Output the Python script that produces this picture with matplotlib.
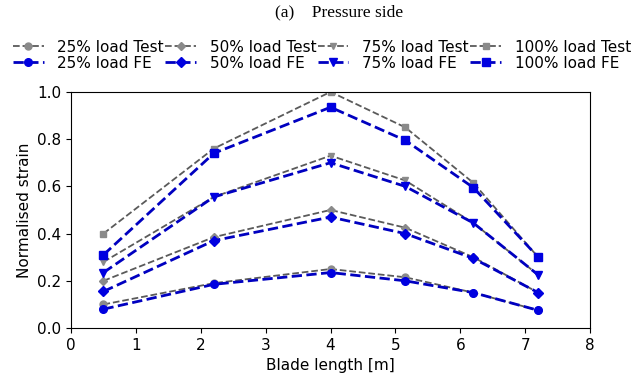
import matplotlib
matplotlib.use("Agg")
from matplotlib import pyplot as plt

x = [0.5, 2.2, 4.0, 5.15, 6.2, 7.2]

test_25 = [0.10, 0.19, 0.25, 0.215, 0.15, 0.075]
fe_25 = [0.08, 0.185, 0.235, 0.20, 0.15, 0.075]
test_50 = [0.20, 0.385, 0.50, 0.425, 0.30, 0.15]
fe_50 = [0.155, 0.37, 0.47, 0.40, 0.295, 0.15]
test_75 = [0.28, 0.555, 0.73, 0.625, 0.445, 0.225]
fe_75 = [0.235, 0.555, 0.70, 0.60, 0.445, 0.225]
test_100 = [0.40, 0.76, 1.00, 0.85, 0.615, 0.30]
fe_100 = [0.31, 0.74, 0.935, 0.795, 0.595, 0.30]

loads = ["25%", "50%", "75%", "100%"]
markers = ["o", "D", "v", "s"]
tests = [test_25, test_50, test_75, test_100]
fes = [fe_25, fe_50, fe_75, fe_100]

fig = plt.figure(figsize=(6.4, 3.91), dpi=100)
ax = fig.add_axes([0.111, 0.161, 0.811, 0.604])

for load, m, t, f in zip(loads, markers, tests, fes):
    ms = 5 if m != "D" else 4.5
    ax.plot(x, t, linestyle="--", color="#5a5a5a", lw=1.3, marker=m,
            markersize=ms, markerfacecolor="#8a8a8a", markeredgecolor="#8a8a8a",
            label=load + " load Test")
    ax.plot(x, f, linestyle="--", color="#0000c0", lw=2.0, marker=m,
            markersize=ms + 0.5, markerfacecolor="#0000e0", markeredgecolor="#0000e0",
            label=load + " load FE")

ax.set_xlim(0, 8)
ax.set_ylim(0, 1.0)
ax.set_xticks(range(0, 9))
ax.set_yticks([0.0, 0.2, 0.4, 0.6, 0.8, 1.0])
ax.set_xlabel("Blade length [m]", fontsize=11)
ax.set_ylabel("Normalised strain", fontsize=11)
ax.tick_params(labelsize=11)

fig.legend(loc="center", bbox_to_anchor=(0.503, 0.859), ncol=4, frameon=False,
           fontsize=11, handlelength=2.0, handletextpad=0.9, columnspacing=0.1,
           labelspacing=0.05)

fig.text(0.53, 0.968, "(a)    Pressure side", ha="center", va="center",
         family="Liberation Serif", fontsize=12.5)

fig.savefig("out.png", dpi=100)
